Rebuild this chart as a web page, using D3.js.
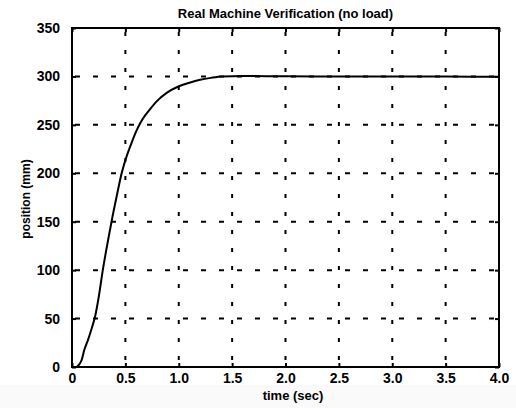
<!DOCTYPE html>
<html><head><meta charset="utf-8">
<script src="https://cdn.jsdelivr.net/npm/d3@7"></script>
<style>body{margin:0;background:#fff}svg{display:block}</style>
</head><body>
<svg id="chart" width="516" height="408"></svg>
<script>
const timeSec = [0, 0.04, 0.07, 0.09, 0.115, 0.15, 0.185, 0.218, 0.25, 0.287, 0.343, 0.372, 0.42, 0.465, 0.51, 0.56, 0.6, 0.64, 0.68, 0.73, 0.8, 0.887, 0.996, 1.1, 1.2, 1.3, 1.41, 1.6, 2.0, 2.5, 3.0, 3.5, 4.0];
const positionMm = [0, 0, 3, 7, 17.5, 28, 40, 53, 72, 99, 134, 151, 177, 200, 217, 232, 243, 252, 259, 266, 275, 283, 289.6, 293.5, 296.5, 298.5, 300, 300.4, 300.2, 300, 300, 299.8, 299.6];
const xTicks = [0, 0.5, 1.0, 1.5, 2.0, 2.5, 3.0, 3.5, 4.0];
const xTickLabels = ["0", "0.5", "1.0", "1.5", "2.0", "2.5", "3.0", "3.5", "4.0"];
const yTicks = [0, 50, 100, 150, 200, 250, 300, 350];
const yTickLabels = ["0", "50", "100", "150", "200", "250", "300", "350"];
const titleText = "Real Machine Verification (no load)";
const xLabel = "time (sec)";
const yLabel = "position (mm)";

const svg = d3.select("#chart");
svg.append("rect").attr("x", 0).attr("y", 385).attr("width", 516).attr("height", 23).attr("fill", "#fafafa");
const m = {l:72, r:499, t:28, b:367};
const x = d3.scaleLinear().domain([0, 4]).range([m.l, m.r]);
const y = d3.scaleLinear().domain([0, 350]).range([m.b, m.t]);
const font = "'Liberation Sans', Arial, sans-serif";

// grid
const g = svg.append("g");
g.selectAll(".vg").data(xTicks.slice(1, -1)).enter().append("line")
  .attr("x1", d => x(d)).attr("x2", d => x(d)).attr("y1", m.t).attr("y2", m.b)
  .attr("stroke", "#000").attr("stroke-width", 2).attr("stroke-dasharray", "4,14").attr("stroke-dashoffset", -4);
g.selectAll(".hg").data(yTicks.slice(1, -1)).enter().append("line")
  .attr("x1", m.l).attr("x2", m.r).attr("y1", d => y(d)).attr("y2", d => y(d))
  .attr("stroke", "#000").attr("stroke-width", 2).attr("stroke-dasharray", "5,13").attr("stroke-dashoffset", -3);

// curve
const line = d3.line().x((d, i) => x(timeSec[i])).y(d => y(d)).curve(d3.curveMonotoneX);
svg.append("path").datum(positionMm).attr("d", line)
  .attr("fill", "none").attr("stroke", "#000").attr("stroke-width", 2);

// frame
svg.append("rect").attr("x", m.l).attr("y", m.t).attr("width", m.r - m.l).attr("height", m.b - m.t)
  .attr("fill", "none").attr("stroke", "#000").attr("stroke-width", 2);

// axes
const xAxis = d3.axisBottom(x).tickValues(xTicks).tickFormat((d, i) => xTickLabels[i]).tickSize(-4).tickPadding(6);
const yAxis = d3.axisLeft(y).tickValues(yTicks).tickFormat((d, i) => yTickLabels[i]).tickSize(-4).tickPadding(12);
const xa = svg.append("g").attr("transform", `translate(0,${m.b})`).call(xAxis);
const ya = svg.append("g").attr("transform", `translate(${m.l},0)`).call(yAxis);
const xt = svg.append("g").attr("transform", `translate(0,${m.t})`).call(d3.axisTop(x).tickValues(xTicks).tickSize(-4).tickFormat(""));
const yr = svg.append("g").attr("transform", `translate(${m.r},0)`).call(d3.axisRight(y).tickValues(yTicks).tickSize(-4).tickFormat(""));
[xa, ya, xt, yr].forEach(a => {
  a.select(".domain").remove();
  a.selectAll(".tick line").attr("stroke", "#000").attr("stroke-width", 2);
  a.selectAll("text").attr("font-family", font).attr("font-size", 14).attr("font-weight", "bold").attr("fill", "#000");
});
xa.selectAll("text").attr("dy", "0.71em");

svg.append("text").attr("x", (m.l + m.r) / 2).attr("y", 18).attr("text-anchor", "middle")
  .attr("font-family", font).attr("font-size", 13).attr("font-weight", "bold").text(titleText);
svg.append("text").attr("x", 293).attr("y", 400).attr("text-anchor", "middle")
  .attr("font-family", font).attr("font-size", 13).attr("font-weight", "bold").text(xLabel);
svg.append("text").attr("transform", `translate(30,199) rotate(-90)`).attr("text-anchor", "middle")
  .attr("font-family", font).attr("font-size", 12).attr("font-weight", "bold").text(yLabel);
</script>
</body></html>
